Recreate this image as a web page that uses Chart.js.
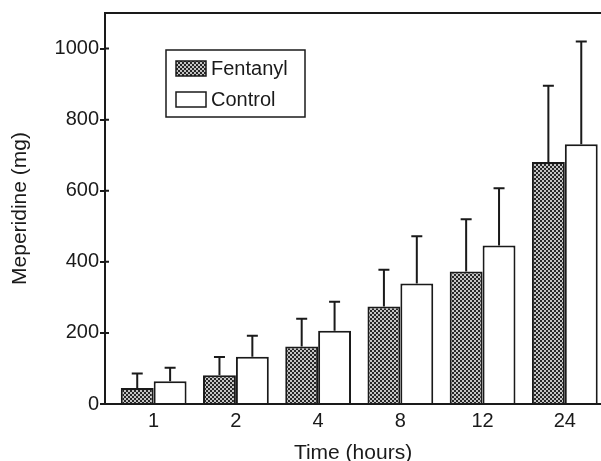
<!DOCTYPE html>
<html lang="en">
<head>
    <meta charset="UTF-8">
    <title>Meperidine use over time</title>
    <script src="https://cdn.jsdelivr.net/npm/chart.js"></script>
    <style>
        html, body { margin: 0; padding: 0; background: #fff; overflow: hidden; }
        #wrap { width: 601px; height: 461px; }
    </style>
</head>
<body>
    <div id="wrap">
        <canvas id="mepChart" width="601" height="461"></canvas>
    </div>

    <script>
        // values (mg)
        const timeLabels = ['1', '2', '4', '8', '12', '24'];
        const fentanylMean = [45, 81, 162, 274, 373, 681];
        const fentanylSD = [41, 51, 78, 104, 147, 214];
        const controlMean = [64, 133, 206, 339, 446, 731];
        const controlSD = [38, 59, 82, 133, 161, 289];
        const yTicks = [0, 200, 400, 600, 800, 1000];

        const ink = '#1a1a1a';
        const fontFamily = '"Liberation Sans", Arial, sans-serif';
        Chart.defaults.font.family = fontFamily;
        Chart.defaults.color = ink;

        // checkered grey fill like the printed figure
        function makeHatch() {
            const c = document.createElement('canvas');
            c.width = 4;
            c.height = 4;
            const g = c.getContext('2d');
            g.fillStyle = '#c4c4c4';
            g.fillRect(0, 0, 4, 4);
            g.fillStyle = '#262626';
            g.fillRect(0, 0, 2, 2);
            g.fillRect(2, 2, 2, 2);
            return g.createPattern(c, 'repeat');
        }
        const hatch = makeHatch();

        function toPoints(values) {
            return values.map((v, i) => ({ x: i, y: v }));
        }

        // upward-only SD bars, drawn with the chart's own scales
        const errorBars = {
            id: 'errorBars',
            afterDatasetsDraw(chart) {
                const g = chart.ctx;
                const yScale = chart.scales.y;
                g.save();
                g.strokeStyle = ink;
                g.lineWidth = 2;
                chart.data.datasets.forEach((ds, d) => {
                    const meta = chart.getDatasetMeta(d);
                    meta.data.forEach((bar, i) => {
                        const top = yScale.getPixelForValue(ds.data[i].y + ds.sd[i]);
                        g.beginPath();
                        g.moveTo(bar.x, bar.y);
                        g.lineTo(bar.x, top);
                        g.moveTo(bar.x - 5.5, top);
                        g.lineTo(bar.x + 5.5, top);
                        g.stroke();
                    });
                });
                g.restore();
            }
        };

        // top frame line, inner tick stubs and boxed legend
        const frameAndLegend = {
            id: 'frameAndLegend',
            afterDraw(chart) {
                const g = chart.ctx;
                const area = chart.chartArea;
                const yScale = chart.scales.y;
                g.save();
                g.strokeStyle = ink;
                g.lineWidth = 2;
                g.beginPath();
                g.moveTo(area.left - 1, area.top);
                g.lineTo(area.right, area.top);
                yTicks.forEach(v => {
                    const py = yScale.getPixelForValue(v);
                    g.moveTo(area.left, py);
                    g.lineTo(area.left + 4, py);
                });
                g.stroke();

                const bx = area.left + 61, by = area.top + 37;
                g.lineWidth = 1.5;
                g.strokeRect(bx, by, 139, 67);
                g.font = '20px ' + fontFamily;
                g.textBaseline = 'middle';
                chart.data.datasets.forEach((ds, d) => {
                    const sy = by + 11 + d * 31;
                    g.fillStyle = ds.backgroundColor;
                    g.fillRect(bx + 10, sy, 30, 15);
                    g.strokeRect(bx + 10, sy, 30, 15);
                    g.fillStyle = ink;
                    g.fillText(ds.label, bx + 45, sy + 8);
                });
                g.restore();
            }
        };

        const ctx = document.getElementById('mepChart').getContext('2d');
        const chart = new Chart(ctx, {
            type: 'bar',
            data: {
                datasets: [{
                    label: 'Fentanyl',
                    data: toPoints(fentanylMean),
                    sd: fentanylSD,
                    backgroundColor: hatch,
                    borderColor: ink,
                    borderWidth: 2
                }, {
                    label: 'Control',
                    data: toPoints(controlMean),
                    sd: controlSD,
                    backgroundColor: '#ffffff',
                    borderColor: ink,
                    borderWidth: 2
                }]
            },
            options: {
                responsive: false,
                animation: false,
                layout: { padding: { top: 13, right: 0, bottom: 0, left: 0 } },
                barPercentage: 1,
                categoryPercentage: 0.8,
                plugins: {
                    legend: { display: false },
                    tooltip: { enabled: false }
                },
                scales: {
                    x: {
                        type: 'linear',
                        offset: false,
                        min: -0.592,
                        max: 5.44,
                        afterFit: (s) => { s.height = 57; },
                        grid: { display: false, drawTicks: false, offset: false },
                        border: { display: true, color: ink, width: 2 },
                        ticks: {
                            stepSize: 1,
                            includeBounds: false,
                            padding: 5,
                            font: { size: 20 },
                            color: ink,
                            callback: (v) => timeLabels[v]
                        },
                        title: {
                            display: true,
                            text: 'Time (hours)',
                            font: { size: 21, lineHeight: 1 },
                            color: ink,
                            padding: { top: 0, bottom: -3 }
                        }
                    },
                    y: {
                        min: 0,
                        max: 1100,
                        afterFit: (s) => { s.width = 105; },
                        afterBuildTicks: (s) => { s.ticks = yTicks.map(v => ({ value: v })); },
                        grid: { drawOnChartArea: false, drawTicks: true, tickLength: 5, color: ink, lineWidth: 2 },
                        border: { display: true, color: ink, width: 2 },
                        ticks: {
                            padding: 1,
                            font: { size: 20 },
                            color: ink,
                            callback: (v) => String(v)
                        },
                        title: {
                            display: true,
                            text: 'Meperidine (mg)',
                            font: { size: 21, lineHeight: 1 },
                            color: ink,
                            padding: { top: 10, bottom: 0 }
                        }
                    }
                }
            },
            plugins: [errorBars, frameAndLegend]
        });
    </script>
</body>
</html>
